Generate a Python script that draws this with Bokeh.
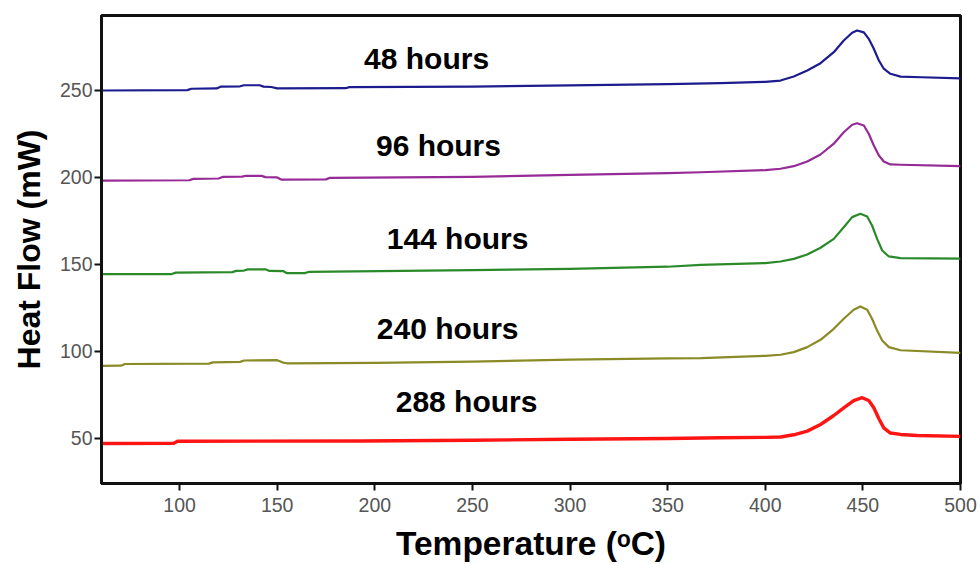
from bokeh.plotting import figure
from bokeh.models import Range1d, FixedTicker, ColumnDataSource
from bokeh.core.properties import value
from bokeh.embed import file_html
from bokeh.resources import INLINE

# ---- data ----
t_48 = [60, 104, 106, 119, 121, 131, 133, 141, 143, 147, 150, 185, 187, 250, 300, 350, 377, 400,
        407.8, 414.6, 421.5, 428.3, 435.1, 440.2, 444.5, 447.0, 450.5, 453.0, 455.6, 458.2, 460.7,
        464.1, 469.3, 480, 500]
hf_48 = [250.0, 250.2, 251.0, 251.2, 252.2, 252.4, 253.0, 253.0, 252.2, 252.0, 251.2, 251.3, 251.9,
         252.2, 252.9, 253.6, 254.2, 255.0,
         255.7, 258.0, 261.5, 265.7, 272.0, 278.7, 283.2, 284.5, 283.4, 279.7, 274.0, 267.2, 262.5,
         259.6, 258.0, 257.6, 257.0]

t_96 = [60, 105, 107, 120, 122, 132, 134, 142, 144, 150, 152, 175, 177, 250, 300, 350, 367, 400,
        407.8, 414.6, 421.5, 428.3, 435.1, 440.2, 444.5, 447.0, 450.5, 453.0, 455.6, 458.2, 460.7,
        464.1, 469.3, 500]
hf_96 = [198.2, 198.4, 199.2, 199.4, 200.3, 200.5, 201.0, 200.9, 200.2, 200.0, 198.8, 198.9, 199.8,
         200.4, 201.5, 202.5, 203.0, 204.2,
         205.0, 206.5, 209.2, 213.2, 219.4, 226.0, 230.3, 231.2, 229.9, 225.1, 218.4, 212.6, 209.2,
         207.5, 207.3, 206.5]

t_144 = [60, 96, 98, 127, 129, 133, 135, 144, 146, 153, 155, 164, 166, 250, 300, 350, 367, 400,
         407.8, 414.6, 421.5, 428.3, 435.1, 440.2, 444.5, 448.7, 452.2, 454.7, 457.3, 459.9, 463.3,
         469.3, 500]
hf_144 = [144.4, 144.5, 145.3, 145.6, 146.3, 146.5, 147.2, 147.2, 146.3, 146.2, 145.0, 145.0, 145.7,
          146.7, 147.5, 148.7, 149.8, 150.8,
          151.7, 153.2, 155.7, 159.6, 164.7, 171.4, 177.2, 179.1, 177.6, 172.4, 164.7, 158.0, 154.6,
          153.6, 153.3]

t_240 = [60, 70, 72, 115, 117, 131, 133, 150, 153, 155, 200, 250, 300, 350, 367, 400,
         407.8, 414.6, 421.5, 428.3, 435.1, 440.2, 445.3, 448.7, 452.2, 454.7, 457.3, 459.9, 463.3,
         469.3, 500]
hf_240 = [91.7, 91.8, 92.8, 93.0, 93.7, 94.0, 94.8, 95.0, 93.6, 93.2, 93.4, 94.2, 95.3, 96.0, 96.2,
          97.5,
          98.1, 99.6, 102.5, 106.7, 113.0, 118.8, 124.0, 125.9, 124.0, 118.8, 112.0, 106.3, 102.5,
          100.7, 99.2]

t_288 = [60, 97, 99, 193, 250, 300, 350, 377, 400,
         407.8, 414.6, 421.5, 428.3, 435.1, 440.2, 445.3, 449.6, 453.0, 455.6, 458.2, 460.7, 464.1,
         469.3, 477.8, 500]
hf_288 = [47.1, 47.2, 48.4, 48.5, 49.0, 49.5, 50.0, 50.4, 50.6,
          50.8, 52.1, 54.2, 58.0, 63.2, 67.6, 71.8, 73.4, 71.8, 67.6, 61.3, 56.1, 53.1,
          52.3, 51.7, 51.2]

series_names = ["48 hours", "96 hours", "144 hours", "240 hours", "288 hours"]
series_colors = ["#1c1c8e", "#962a96", "#2a8a2a", "#8a8a26", "#ff1414"]
label_x = [226.5, 232.6, 242.4, 237.3, 247.0]
label_y = [268.4, 218.4, 165.0, 113.2, 71.3]

x_ticks = [100, 150, 200, 250, 300, 350, 400, 450, 500]
y_ticks = [50, 100, 150, 200, 250]

# ---- figure ----
p = figure(width=980, height=564, output_backend="svg", toolbar_location=None,
           x_range=Range1d(60, 500), y_range=Range1d(24.1, 293.1),
           min_border_left=101, min_border_right=20, min_border_top=15, min_border_bottom=81)
p.grid.visible = False
p.background_fill_color = "white"
p.border_fill_color = "white"
p.outline_line_color = "#111111"
p.outline_line_width = 3

all_t = [t_48, t_96, t_144, t_240, t_288]
all_hf = [hf_48, hf_96, hf_144, hf_240, hf_288]
widths = [2.2, 2.2, 2.2, 2.2, 3.4]
for t, hf, c, w in zip(all_t, all_hf, series_colors, widths):
    p.line(t, hf, line_color=c, line_width=w, line_join="round")

src = ColumnDataSource(dict(x=label_x, y=label_y, txt=series_names))
p.text(x="x", y="y", text="txt", source=src, text_align="center", text_baseline="middle",
       text_font=value("Liberation Sans"), text_font_style="bold", text_font_size="30px",
       text_color="black")

for ax in (p.xaxis[0], p.yaxis[0]):
    ax.axis_line_color = "#111111"
    ax.axis_line_width = 3
    ax.major_tick_line_color = "#111111"
    ax.major_tick_line_width = 2
    ax.major_tick_out = 7
    ax.major_tick_in = 0
    ax.minor_tick_line_color = None
    ax.major_label_text_font = "Liberation Sans"
    ax.major_label_text_font_size = "19.5px"
    ax.major_label_text_color = "#555555"
    ax.axis_label_text_font = "Liberation Sans"
    ax.axis_label_text_font_style = "bold"
    ax.axis_label_text_color = "black"

p.xaxis.ticker = FixedTicker(ticks=x_ticks)
p.yaxis.ticker = FixedTicker(ticks=y_ticks)
p.xaxis.major_label_standoff = 7
p.yaxis.major_label_standoff = 2
p.xaxis.axis_label = "Temperature (ᵒC)"
p.yaxis.axis_label = "Heat Flow (mW)"
p.xaxis.axis_label_text_font_size = "33.5px"
p.yaxis.axis_label_text_font_size = "32px"
p.xaxis.axis_label_standoff = 10
p.yaxis.axis_label_standoff = 10

open("out.html", "w").write(file_html(p, INLINE))
